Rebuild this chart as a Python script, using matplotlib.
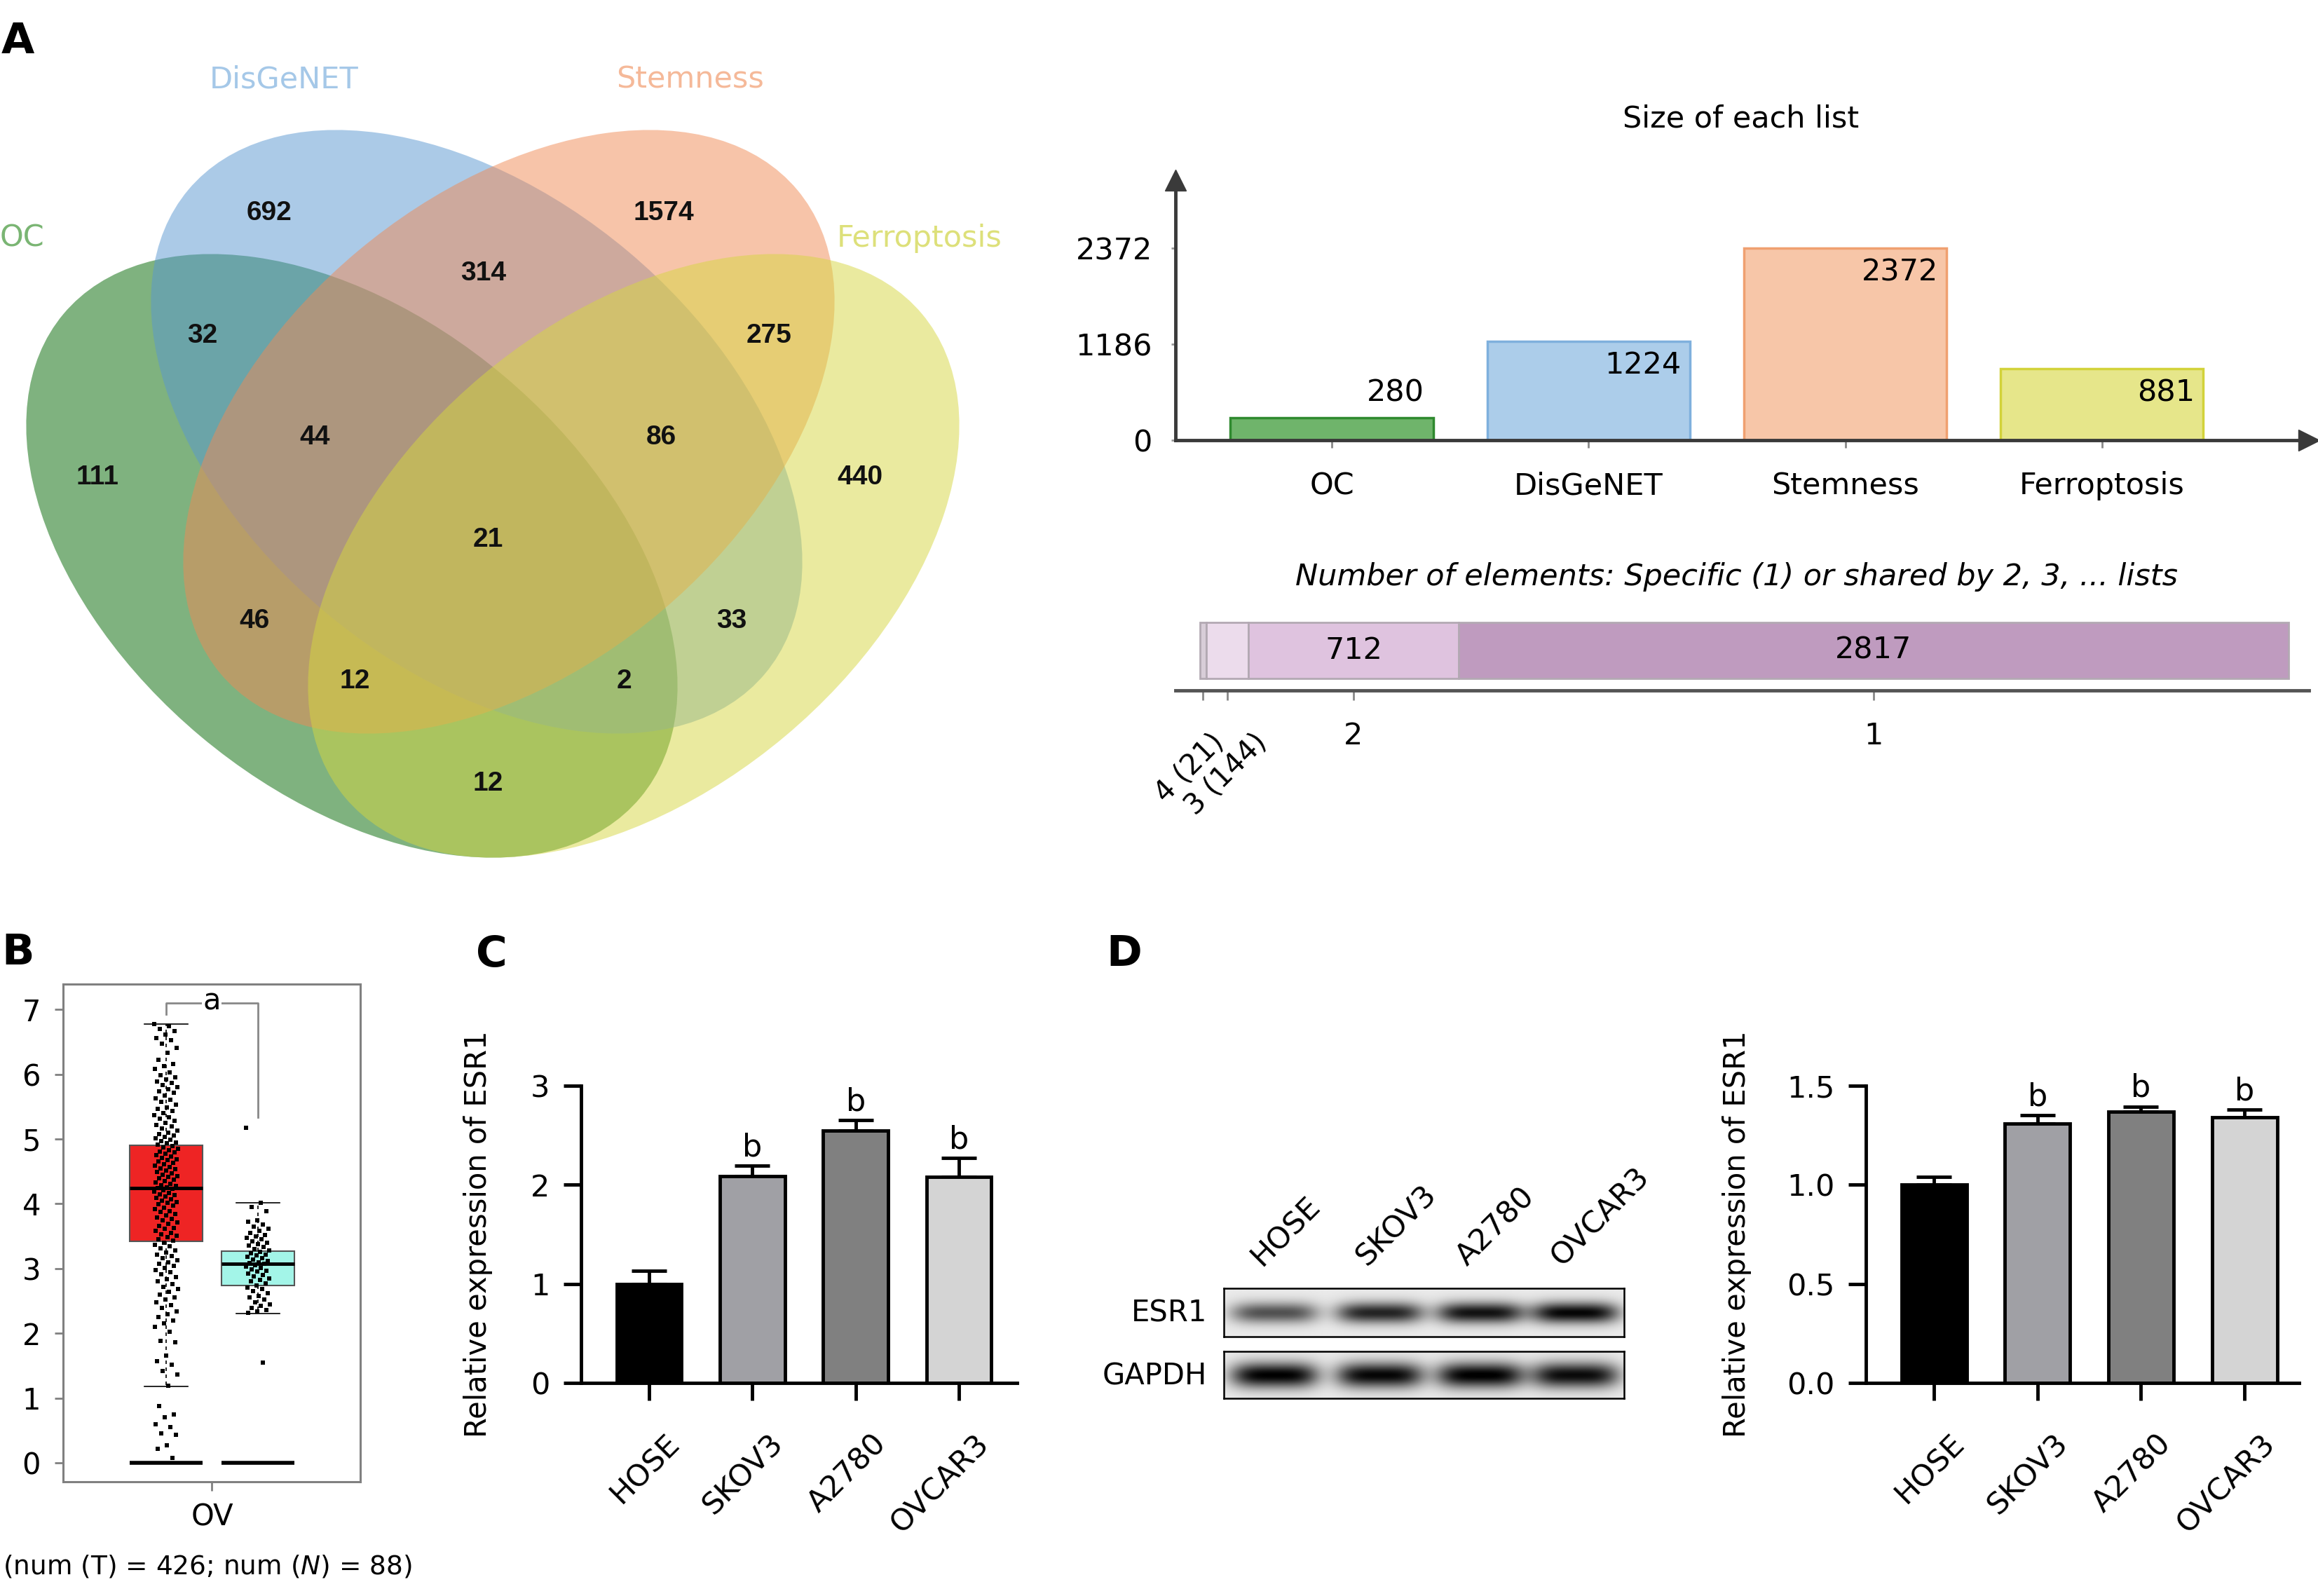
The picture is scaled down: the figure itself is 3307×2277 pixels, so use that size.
import numpy as np
import matplotlib
matplotlib.use("Agg")
import matplotlib.pyplot as plt
from matplotlib.patches import Ellipse
from matplotlib.transforms import ScaledTranslation
from matplotlib import font_manager

plt.rcParams['font.family'] = ['DejaVu Sans']
plt.rcParams['mathtext.fontset'] = 'dejavusans'

W, H = 3307, 2277

# ---------------- data ----------------
venn_sets = ['OC', 'DisGeNET', 'Stemness', 'Ferroptosis']
venn_regions = ['1000', '0100', '0010', '0001', '1100', '0110', '0011',
                '1110', '0111', '1010', '0101', '1011', '1101', '1001', '1111']
venn_counts = [111, 692, 1574, 440, 32, 314, 275, 44, 86, 46, 33, 12, 2, 12, 21]

list_sizes = [280, 1224, 2372, 881]
size_ticks = [0, 1186, 2372]

shared_labels = ['4 (21)', '3 (144)', '2', '1']
shared_counts = [21, 144, 712, 2817]

# GEPIA box plot, ESR1 in OV (T = tumor, N = normal)
box_med = [4.24, 3.07]
box_q1 = [3.42, 2.74]
box_q3 = [4.90, 3.27]
box_lo = [1.18, 2.31]
box_hi = [6.77, 4.01]
t_expr = [6.77, 6.74, 6.70, 6.66, 6.61, 6.56, 6.52, 6.47, 6.41, 6.33, 6.22, 6.16, 6.12, 6.08, 6.03,
          5.98, 5.95, 5.92, 5.89, 5.86, 5.83, 5.80, 5.77, 5.74, 5.71, 5.67, 5.63, 5.60, 5.57, 5.53,
          5.49, 5.46, 5.43, 5.40, 5.37, 5.34, 5.31, 5.28, 5.25, 5.22, 5.19, 5.16, 5.13, 5.10, 5.08,
          5.05, 5.03, 5.01, 4.99, 4.97, 4.95, 4.93, 4.91, 4.89, 4.87, 4.85, 4.83, 4.81, 4.79, 4.77,
          4.75, 4.73, 4.71, 4.69, 4.67, 4.65, 4.63, 4.61, 4.59, 4.57, 4.55, 4.53, 4.51, 4.49, 4.47,
          4.45, 4.43, 4.41, 4.39, 4.37, 4.35, 4.33, 4.31, 4.29, 4.27, 4.25, 4.24, 4.23, 4.21, 4.19,
          4.17, 4.15, 4.13, 4.11, 4.09, 4.07, 4.05, 4.03, 4.01, 3.99, 3.97, 3.94, 3.92, 3.89, 3.87,
          3.84, 3.82, 3.79, 3.77, 3.74, 3.71, 3.69, 3.66, 3.63, 3.61, 3.58, 3.55, 3.53, 3.51, 3.48,
          3.45, 3.43, 3.40, 3.37, 3.34, 3.31, 3.28, 3.25, 3.22, 3.19, 3.16, 3.13, 3.10, 3.07, 3.04,
          3.01, 2.98, 2.94, 2.91, 2.87, 2.84, 2.80, 2.76, 2.72, 2.68, 2.64, 2.60, 2.56, 2.52, 2.48,
          2.44, 2.39, 2.34, 2.30, 2.25, 2.20, 2.15, 2.10, 2.03, 1.88, 1.86, 1.66, 1.57, 1.52, 1.42,
          1.37, 1.19, 0.88, 0.75, 0.70, 0.60, 0.55, 0.46, 0.43, 0.27, 0.22, 0.08]
n_expr = [5.17, 4.01, 3.95, 3.88, 3.75, 3.72, 3.68, 3.65, 3.62, 3.58, 3.55, 3.52, 3.50, 3.47,
          3.45, 3.42, 3.40, 3.38, 3.35, 3.33, 3.30, 3.28, 3.26, 3.24, 3.22, 3.20, 3.18, 3.16,
          3.14, 3.12, 3.10, 3.08, 3.07, 3.05, 3.03, 3.01, 2.99, 2.97, 2.95, 2.92, 2.90, 2.88,
          2.85, 2.82, 2.80, 2.77, 2.74, 2.71, 2.68, 2.65, 2.62, 2.58, 2.55, 2.52, 2.48, 2.45,
          2.42, 2.39, 2.36, 2.34, 2.32, 1.55]

cell_lines = ['HOSE', 'SKOV3', 'A2780', 'OVCAR3']
qpcr_mean = [1.00, 2.09, 2.55, 2.08]
qpcr_err = [0.13, 0.10, 0.10, 0.19]
wb_mean = [1.00, 1.31, 1.37, 1.34]
wb_err = [0.04, 0.04, 0.025, 0.04]
sig_marks = ['', 'b', 'b', 'b']
esr1_band = [0.60, 0.78, 0.85, 0.90]
gapdh_band = [0.92, 0.90, 0.93, 0.88]

# ---------------- helpers ----------------
names = {f.name for f in font_manager.fontManager.ttflist}
narrow = 'Liberation Sans Narrow' if 'Liberation Sans Narrow' in names else 'Liberation Sans'
num_size = 31 if narrow == 'Liberation Sans Narrow' else 28


def px_box(x0, y0, x1, y1):
    return [x0 / W, 1 - y1 / H, (x1 - x0) / W, (y1 - y0) / H]


def fig_text(x, y, s, **kw):
    fig.text(x / W, 1 - y / H, s, **kw)


fig = plt.figure(figsize=(W / 100, H / 100), dpi=100)

# ---------------- A: venn ----------------
ax = fig.add_axes(px_box(0, 0, 1400, 1260))
ax.set_xlim(0, 1400)
ax.set_ylim(1260, 0)
ax.axis('off')

ell_centers = [(502, 793), (680, 616), (726, 616), (904, 793)]
ell_angles = [40, 40, -40, -40]
ell_colors = ['#006600', '#5997d1', '#f08a55', '#d6d740']
for (cx, cy), ang, col in zip(ell_centers, ell_angles, ell_colors):
    ax.add_patch(Ellipse((cx, cy), 1074, 672, angle=ang, facecolor=col, alpha=0.5, edgecolor='none'))

region_pos = {'1000': (139, 681), '0100': (384, 304), '0010': (947, 304), '0001': (1227, 681),
              '1100': (289, 479), '0110': (690, 390), '0011': (1097, 479), '1110': (449, 624),
              '0111': (943, 624), '1010': (363, 886), '0101': (1044, 886), '1011': (506, 972),
              '1101': (890, 972), '1001': (696, 1118), '1111': (696, 770)}
for key, n in zip(venn_regions, venn_counts):
    x, y = region_pos[key]
    ax.text(x, y, str(n), ha='center', va='center', fontsize=num_size,
            fontweight='bold', family=narrow, color='#111111')

label_pos = [(32, 340), (405, 114), (985, 114), (1312, 340)]
label_cols = ['#7ab573', '#a5c8e8', '#f5b999', '#dde07a']
for s, (x, y), c in zip(venn_sets, label_pos, label_cols):
    ax.text(x, y, s, ha='center', va='center', fontsize=31, color=c)

# ---------------- A: size of each list ----------------
ax = fig.add_axes(px_box(1677, 257, 3294, 628))
xs = np.arange(len(list_sizes))
fills = ['#6fb46b', '#accdea', '#f7c6a8', '#e6e68a']
edges = ['#2f8a2f', '#7fb0dd', '#f0a070', '#d2d23a']
ax.bar(xs, list_sizes, width=0.79, color=fills, edgecolor=edges, linewidth=2.5)
ax.set_xlim(-0.609, 3.806)
ax.set_ylim(0, 3212)
for side in ['top', 'right']:
    ax.spines[side].set_visible(False)
for side in ['left', 'bottom']:
    ax.spines[side].set_color('#3a3a3a')
    ax.spines[side].set_linewidth(3.5)
ax.plot(1, 0, '>', ms=22, color='#3a3a3a', transform=ax.transAxes, clip_on=False)
ax.plot(0, 1, '^', ms=22, color='#3a3a3a', transform=ax.transAxes, clip_on=False)
ax.set_yticks(size_ticks)
ax.set_yticklabels([str(v) for v in size_ticks])
ax.tick_params(axis='y', length=4, width=2, color='#999999', pad=20, labelsize=31)
ax.set_xticks(xs)
ax.set_xticklabels(venn_sets)
ax.tick_params(axis='x', length=8, width=2, color='#888888', pad=24, labelsize=31)
for i, v in enumerate(list_sizes):
    dy = -25 if v > 600 else 25
    ax.annotate(str(v), (i + 0.395, v), xytext=(-9, dy), textcoords='offset points',
                ha='right', va='center', fontsize=31)
fig_text(2484, 169, 'Size of each list', ha='center', va='center', fontsize=31)

# ---------------- A: shared counts ----------------
fig_text(2478, 823, 'Number of elements: Specific (1) or shared by 2, 3, ... lists',
         ha='center', va='center', fontsize=31, style='italic')
ax = fig.add_axes(px_box(1677, 870, 3294, 985))
lefts = np.concatenate([[0], np.cumsum(shared_counts)[:-1]])
centers = lefts + np.array(shared_counts) / 2
ax.barh(57, shared_counts, left=lefts, height=80,
        color=['#d8cdd8', '#ecdcec', '#dfc3df', '#bf9bbf'], edgecolor='#b3a9b3', linewidth=2)
ax.set_xlim(-83, 3763)
ax.set_ylim(0, 115)
for side in ['top', 'right', 'left']:
    ax.spines[side].set_visible(False)
ax.spines['bottom'].set_color('#555555')
ax.spines['bottom'].set_linewidth(3.5)
ax.set_yticks([])
ax.set_xticks(centers)
ax.set_xticklabels(shared_labels)
ax.tick_params(axis='x', length=10, width=2, color='#888888', pad=22, labelsize=31)
# the two narrow segments get slanted labels, pushed apart so they don't collide
for lbl, dx in zip(ax.get_xticklabels()[:2], [0.09, 0.36]):
    lbl.set_rotation(45)
    lbl.set_ha('right')
    lbl.set_va('top')
    lbl.set_rotation_mode('anchor')
    lbl.set_fontsize(29)
    lbl.set_transform(lbl.get_transform() + ScaledTranslation(dx, -0.09, fig.dpi_scale_trans))
for c, n in zip(centers, shared_counts):
    if n > 300:
        ax.text(c, 57, str(n), ha='center', va='center', fontsize=31)

# ---------------- B: box plot ----------------
ax = fig.add_axes(px_box(90, 1404, 514, 2114))
stats = []
for i in range(2):
    stats.append({'med': box_med[i], 'q1': box_q1[i], 'q3': box_q3[i],
                  'whislo': box_lo[i], 'whishi': box_hi[i], 'fliers': []})
bp = ax.bxp(stats, positions=[1, 2], widths=0.8, patch_artist=True, capwidths=[0.48, 0.48],
            boxprops=dict(edgecolor='#555555', linewidth=1.5),
            medianprops=dict(color='black', linewidth=3.5),
            whiskerprops=dict(color='black', linewidth=1.2, linestyle=(0, (3, 3))),
            capprops=dict(color='black', linewidth=1.2))
for patch, col in zip(bp['boxes'], ['#ee2424', '#a3f5e8']):
    patch.set_facecolor(col)
ax.hlines([0, 0], [0.6, 1.6], [1.4, 2.4], color='black', linewidth=4)
for pos, vals in [(1, t_expr), (2, n_expr)]:
    jit = ((np.arange(len(vals)) * 0.618034) % 1 - 0.5) * 0.26
    ax.scatter(pos + jit, vals, s=13, marker='s', color='black', zorder=3, linewidths=0)
ax.plot([1, 1, 2, 2], [6.93, 7.10, 7.10, 5.33], color='#888888', linewidth=2)
ax.text(1.5, 7.12, 'a', ha='center', va='center', fontsize=30,
        bbox=dict(facecolor='white', edgecolor='none', pad=1))
ax.set_xlim(-0.122, 3.115)
ax.set_ylim(-0.29, 7.39)
for side in ax.spines.values():
    side.set_color('#808080')
    side.set_linewidth(2.2)
ax.set_yticks(range(8))
ax.tick_params(axis='y', length=9, width=2, color='#808080', pad=14, labelsize=30)
ax.set_xticks([1.5])
ax.set_xticklabels(['OV'])
ax.tick_params(axis='x', length=9, width=2, color='#808080', pad=12, labelsize=30)
fig_text(296, 2235, r'(num (T) = 426; num ($\mathit{N}$) = 88)', ha='center', va='center', fontsize=27)


# ---------------- C / D: bar charts ----------------
def bar_panel(bx, vals, errs, ymax, yticks, yfmt, xlim, label_x):
    ax = fig.add_axes(px_box(*bx))
    x = np.arange(len(cell_lines))
    ax.bar(x, vals, width=0.63, color=['black', '#a0a0a5', '#808080', '#d4d4d4'],
           edgecolor='black', linewidth=3.5, zorder=2)
    ax.errorbar(x, vals, yerr=[np.zeros(len(vals)), errs], fmt='none', ecolor='black',
                elinewidth=3.5, capsize=18, capthick=3.5, zorder=1)
    for i, s in enumerate(sig_marks):
        if s:
            ax.annotate(s, (i, vals[i] + errs[i]), xytext=(0, 10), textcoords='offset points',
                        ha='center', va='baseline', fontsize=32)
    ax.set_xlim(*xlim)
    ax.set_ylim(0, ymax)
    for side in ['top', 'right']:
        ax.spines[side].set_visible(False)
    for side in ['left', 'bottom']:
        ax.spines[side].set_linewidth(3.5)
    ax.set_yticks(yticks)
    ax.set_yticklabels([yfmt.format(v) for v in yticks])
    ax.tick_params(axis='both', direction='out', length=18, width=3.5, labelsize=31)
    ax.tick_params(axis='y', pad=14)
    ax.tick_params(axis='x', pad=29)
    ax.set_xticks(x)
    ax.set_xticklabels(cell_lines, rotation=45, ha='right', va='top', rotation_mode='anchor')
    off = ScaledTranslation(0.22, 0, fig.dpi_scale_trans)
    for lbl in ax.get_xticklabels():
        lbl.set_transform(lbl.get_transform() + off)
    ax.set_ylabel('Relative expression of ESR1', fontsize=30)
    ax.yaxis.set_label_coords((label_x - bx[0]) / (bx[2] - bx[0]), 0.5)
    return ax


bar_panel((829, 1549, 1451, 1973), qpcr_mean, qpcr_err, 3, [0, 1, 2, 3], '{:g}',
          (-0.659, 3.564), 703)
bar_panel((2662, 1549, 3280, 1973), wb_mean, wb_err, 1.5, [0, 0.5, 1.0, 1.5], '{:.1f}',
          (-0.657, 3.527), 2499)

# ---------------- D: western blot ----------------
lane_x = [1818, 1968, 2111, 2246]


def blot(bx, intens, band_h, name, name_y):
    x0, y0, x1, y1 = bx
    ax = fig.add_axes(px_box(*bx))
    X, Y = np.meshgrid(np.arange(x0, x1), np.arange(y0, y1))
    img = np.full(X.shape, 0.08)
    yc = (y0 + y1) / 2
    for c, v in zip(lane_x, intens):
        img += v * np.exp(-((X - c) / 62.0) ** 4) * np.exp(-((Y - yc) / band_h) ** 2)
    ax.imshow(img, cmap='gray_r', vmin=0, vmax=1, extent=(x0, x1, y1, y0),
              aspect='auto', interpolation='bilinear')
    ax.set_xticks([])
    ax.set_yticks([])
    for side in ax.spines.values():
        side.set_linewidth(1.8)
    fig_text(1722, name_y, name, ha='right', va='center', fontsize=30)


blot((1746, 1838, 2317, 1907), esr1_band, 15, 'ESR1', 1873)
blot((1746, 1928, 2317, 1995), gapdh_band, 18, 'GAPDH', 1963)
for c, s in zip(lane_x, cell_lines):
    fig_text(c - 18, 1808, s, ha='left', va='baseline', rotation=45,
             rotation_mode='anchor', fontsize=31)

# ---------------- panel letters ----------------
for s, x, y in [('A', 2, 59), ('B', 2, 1360), ('C', 679, 1363), ('D', 1578, 1362)]:
    fig_text(x, y, s, ha='left', va='center', fontsize=44, fontweight='bold')

fig.savefig('out.png', dpi=100)
